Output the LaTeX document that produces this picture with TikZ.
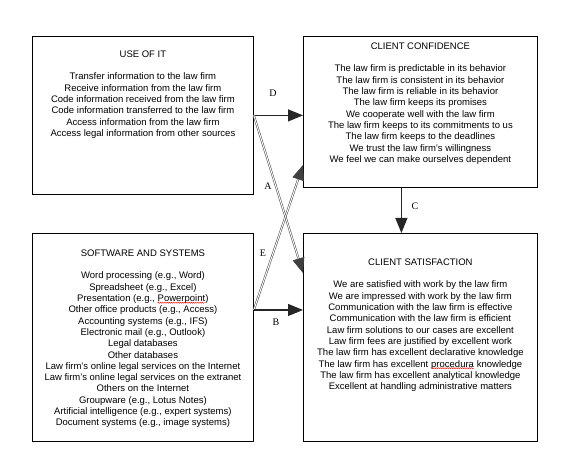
\documentclass[tikz,border=0pt]{standalone}
\usepackage{fontspec}
\setmainfont{Liberation Sans}
\newfontfamily\lblfont{Liberation Serif}
\usetikzlibrary{arrows.meta,positioning,calc,decorations.pathmorphing}

% red wavy underline of the spell checker
\newcommand{\spellerr}[1]{\tikz[baseline=(w.base)]{\node[inner sep=0pt,outer sep=0pt] (w) {#1};
  \draw[red,line width=0.4pt,decorate,decoration={snake,amplitude=0.6pt,segment length=2.2pt}]
    ([yshift=-1.2pt]w.base west) -- ([yshift=-1.2pt]w.base east);}}

\begin{document}
\begin{tikzpicture}[
  x=1pt,y=-1pt,
  >={Triangle[length=15pt 0 0,width=12pt 0 0]},
  panel/.style={draw,line width=0.8pt,inner sep=0pt,anchor=north west},
  body/.style={font=\fontsize{9.5}{11.3}\selectfont,align=center,inner sep=0pt,anchor=north},
  link/.style={->,line width=1.2pt,black!85},
  cross/.style={->,draw=black!75,double=white,double distance=1pt,line width=0.5pt},
  tag/.style={font=\lblfont\fontsize{10}{12}\selectfont,inner sep=0pt},
]
\useasboundingbox (0,0) rectangle (579,470);

% the four boxes
\node[panel,minimum width=221pt,minimum height=158pt] (use) at (32,36) {};
\node[panel,minimum width=234pt,minimum height=151pt] (conf) at (303,36) {};
\node[panel,minimum width=221pt,minimum height=208pt] (soft) at (32,233) {};
\node[panel,minimum width=234pt,minimum height=208pt] (sat) at (303,233) {};

\node[body] (usetxt) at ($(use.north)+(0,14.5)$)
  {USE OF IT\\[11.3pt]
   Transfer information to the law firm\\
   Receive information from the law firm\\
   Code information received from the law firm\\
   Code information transferred to the law firm\\
   Access information from the law firm\\
   Access legal information from other sources};
\node[body] (conftxt) at ($(conf.north)+(0,6.5)$)
  {CLIENT CONFIDENCE\\[11.3pt]
   The law firm is predictable in its behavior\\
   The law firm is consistent in its behavior\\
   The law firm is reliable in its behavior\\
   The law firm keeps its promises\\
   We cooperate well with the law firm\\
   The law firm keeps to its commitments to us\\
   The law firm keeps to the deadlines\\
   We trust the law firm's willingness\\
   We feel we can make ourselves dependent};
\node[body] (softtxt) at ($(soft.north)+(0,16.5)$)
  {SOFTWARE AND SYSTEMS\\[11.3pt]
   Word processing (e.g., Word)\\
   Spreadsheet (e.g., Excel)\\
   Presentation (e.g., \spellerr{Powerpoint})\\
   Other office products (e.g., Access)\\
   Accounting systems (e.g., IFS)\\
   Electronic mail (e.g., Outlook)\\
   Legal databases\\
   Other databases\\
   Law firm's online legal services on the Internet\\
   Law firm's online legal services on the extranet\\
   Others on the Internet\\
   Groupware (e.g., Lotus Notes)\\
   Artificial intelligence (e.g., expert systems)\\
   Document systems (e.g., image systems)};
\node[body] (sattxt) at ($(sat.north)+(0,25.5)$)
  {CLIENT SATISFACTION\\[11.3pt]
   We are satisfied with work by the law firm\\
   We are impressed with work by the law firm\\
   Communication with the law firm is effective\\
   Communication with the law firm is efficient\\
   Law firm solutions to our cases are excellent\\
   Law firm fees are justified by excellent work\\
   The law firm has excellent declarative knowledge\\
   The law firm has excellent \spellerr{procedura} knowledge\\
   The law firm has excellent analytical knowledge\\
   Excellent at handling administrative matters};

% connectors
\coordinate (sw) at ($(soft.north east)+(0,77)$);
\coordinate (aend) at ($(sat.north west)+(0,40)$);
\coordinate (eend) at ($(conf.north west)+(0,129)$);
\coordinate (ctop) at ($(conf.south)+(-19,0)$);
\draw[link] (use.east) -- (use.east -| conf.west);
\draw[cross] (use.east) -- (aend);
\draw[cross] (sw) -- (eend);
\draw[link] (sw) -- (sw -| sat.west);
\draw[link] (ctop) -- (ctop |- sat.north);

\node[tag] (tD) at (273,93) {D};
\node[tag] (tA) at (268,186) {A};
\node[tag] (tE) at (263,253) {E};
\node[tag] (tB) at (276,322) {B};
\node[tag] (tC) at (415,206) {C};
\end{tikzpicture}
\end{document}
